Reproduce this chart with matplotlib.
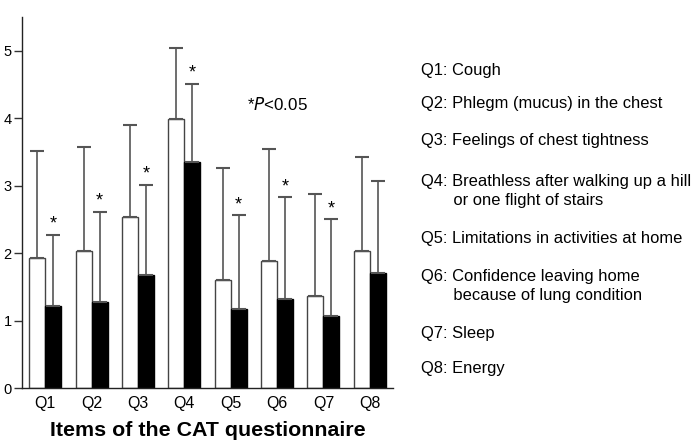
import matplotlib
matplotlib.use("Agg")
import matplotlib.pyplot as plt
import numpy as np

plt.rcParams['font.family'] = ['Liberation Sans', 'DejaVu Sans']

categories = ["Q1", "Q2", "Q3", "Q4", "Q5", "Q6", "Q7", "Q8"]
before_mean = [1.93, 2.03, 2.53, 3.99, 1.60, 1.89, 1.36, 2.03]
before_sd = [1.58, 1.55, 1.37, 1.05, 1.66, 1.66, 1.51, 1.40]
after_mean = [1.21, 1.28, 1.68, 3.35, 1.17, 1.32, 1.07, 1.71]
after_sd = [1.06, 1.33, 1.33, 1.16, 1.39, 1.51, 1.43, 1.36]
significant = [True, True, True, True, True, True, True, False]
item_labels = [
    "Q1: Cough",
    "Q2: Phlegm (mucus) in the chest",
    "Q3: Feelings of chest tightness",
    "Q4: Breathless after walking up a hill\n       or one flight of stairs",
    "Q5: Limitations in activities at home",
    "Q6: Confidence leaving home\n       because of lung condition",
    "Q7: Sleep",
    "Q8: Energy",
]
label_y = [70, 103, 140, 191, 238, 286, 333, 368]  # pixel rows from top

fig = plt.figure(figsize=(7, 4.4), dpi=100)
ax = fig.add_axes([22/700, 1 - 388/440, (393-22)/700, (388-17)/440])

x = np.arange(len(categories))
w = 0.345
err_kw = dict(ecolor='#555555', elinewidth=1.2, capsize=5, capthick=1.5)
ax.bar(x - w/2, before_mean, w, color='white', edgecolor='#444444', linewidth=1.0,
       yerr=[np.zeros(len(x)), before_sd], error_kw=err_kw)
ax.bar(x + w/2, after_mean, w, color='black', edgecolor='black', linewidth=1.0,
       yerr=[np.zeros(len(x)), after_sd], error_kw=err_kw)

for i, s in enumerate(significant):
    if s:
        ax.text(x[i] + w/2, after_mean[i] + after_sd[i] + 0.03, "*", ha='center',
                va='bottom', fontsize=13)

ax.set_xlim(-0.5, 7.5)
ax.set_ylim(0, 5.5)
ax.set_yticks([0, 1, 2, 3, 4, 5])
ax.set_xticks(x)
ax.set_xticklabels(categories)
ax.tick_params(axis='y', length=6, width=1, labelsize=10.5, pad=1.5, color='#333333')
ax.tick_params(axis='x', length=0, labelsize=11.5, pad=6)
for sp in ['top', 'right']:
    ax.spines[sp].set_visible(False)
for sp in ['left', 'bottom']:
    ax.spines[sp].set_color('#222222')
    ax.spines[sp].set_linewidth(1.0)
ax.set_xlabel("Items of the CAT questionnaire", fontsize=15.4, fontweight='bold', labelpad=7)

fig.text(247/700, 1 - 105/440, r"*$\it{P}$<0.05", fontsize=12.2, va='center', ha='left')

for lab, yy in zip(item_labels, label_y):
    fig.text(421/700, 1 - yy/440, lab, fontsize=11.9, va='center', ha='left',
             linespacing=1.3)

fig.savefig("out.png", dpi=100)
